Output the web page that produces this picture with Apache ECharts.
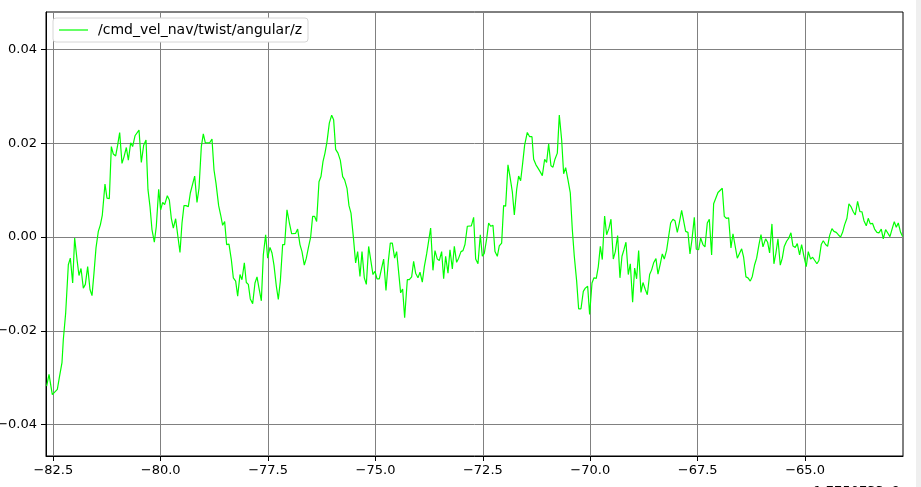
<!DOCTYPE html>
<html>
<head>
<meta charset="utf-8">
<title>/cmd_vel_nav/twist/angular/z</title>
<script src="https://cdn.jsdelivr.net/npm/echarts@6.0.0/dist/echarts.min.js"></script>
<style>
  html, body { margin: 0; padding: 0; background: #fff; }
  #plot { width: 921px; height: 487px; }
</style>
</head>
<body>
<div id="plot"></div>
<script>
// 时间（秒，相对于偏移量 1.7750733e9）
var timeSec = [
  -82.655, -82.600, -82.523, -82.484, -82.406, -82.360, -82.298, -82.267, -82.212, -82.150,
  -82.104, -82.049, -82.003, -81.948, -81.902, -81.855, -81.801, -81.754, -81.700, -81.646,
  -81.599, -81.553, -81.506, -81.452, -81.405, -81.359, -81.297, -81.250, -81.196, -81.149,
  -81.103, -81.048, -81.002, -80.955, -80.901, -80.854, -80.800, -80.753, -80.699, -80.653,
  -80.598, -80.552, -80.505, -80.451, -80.396, -80.342, -80.296, -80.249, -80.203, -80.148,
  -80.102, -80.047, -80.001, -79.954,
  -79.908, -79.846, -79.799, -79.753, -79.706, -79.652, -79.605, -79.551, -79.504, -79.458,
  -79.411, -79.357, -79.310, -79.264, -79.209, -79.155, -79.108, -79.054, -79.008, -78.961,
  -78.907, -78.860, -78.806, -78.759, -78.713, -78.651, -78.604, -78.558, -78.511, -78.465,
  -78.410, -78.356, -78.309, -78.255, -78.208, -78.154, -78.108, -78.053, -78.007, -77.960,
  -77.914, -77.859, -77.805, -77.758, -77.712, -77.657, -77.611, -77.557, -77.510, -77.456,
  -77.409, -77.363, -77.308, -77.262, -77.215, -77.161,
  -77.114, -77.060, -77.006, -76.951, -76.905, -76.858, -76.812, -76.758, -76.711, -76.657,
  -76.610, -76.556, -76.509, -76.463, -76.416, -76.370, -76.315, -76.269, -76.222, -76.176,
  -76.129, -76.075, -76.020, -75.974, -75.927, -75.873, -75.819, -75.764, -75.718, -75.663,
  -75.617, -75.570, -75.516, -75.462, -75.415, -75.361, -75.314, -75.260, -75.213, -75.159,
  -75.113, -75.058, -75.012, -74.965, -74.911, -74.856, -74.810, -74.756, -74.701, -74.655,
  -74.608, -74.554, -74.507, -74.461, -74.414, -74.368, -74.321,
  -74.259, -74.212, -74.158, -74.112, -74.065, -74.011, -73.964, -73.910, -73.863, -73.809,
  -73.763, -73.716, -73.662, -73.615, -73.561, -73.514, -73.460, -73.413, -73.367, -73.312,
  -73.266, -73.211, -73.165, -73.111, -73.064, -73.010, -72.963, -72.917, -72.862, -72.816,
  -72.769, -72.715, -72.668, -72.614, -72.560, -72.513, -72.467, -72.412, -72.366, -72.319,
  -72.265, -72.218, -72.164, -72.118, -72.063, -72.017, -71.970, -71.916, -71.869, -71.815,
  -71.768, -71.714, -71.668, -71.621, -71.574, -71.528,
  -71.466, -71.411, -71.357, -71.318, -71.264, -71.217, -71.171, -71.116, -71.062, -71.016,
  -70.969, -70.915, -70.868, -70.822, -70.767, -70.721, -70.666, -70.620, -70.573, -70.519,
  -70.465, -70.418, -70.372, -70.317, -70.271, -70.216, -70.162, -70.116, -70.061, -70.015,
  -69.960, -69.914, -69.860, -69.813, -69.766, -69.720, -69.666, -69.619, -69.565, -69.518,
  -69.464, -69.417, -69.363, -69.309, -69.262, -69.216, -69.169, -69.115, -69.068, -69.014,
  -68.967, -68.921, -68.874, -68.820, -68.773,
  -68.719, -68.672, -68.618, -68.571, -68.525, -68.471, -68.424, -68.370, -68.323, -68.277,
  -68.222, -68.176, -68.129, -68.075, -68.028, -67.974, -67.927, -67.873, -67.827, -67.780,
  -67.726, -67.679, -67.633, -67.578, -67.532, -67.477, -67.431, -67.377, -67.330, -67.276,
  -67.229, -67.175, -67.128, -67.082, -67.027, -66.981, -66.927, -66.880, -66.833, -66.779,
  -66.725, -66.678, -66.632, -66.577, -66.531, -66.476, -66.430, -66.376, -66.329, -66.275,
  -66.228, -66.174, -66.127, -66.073, -66.026, -65.980,
  -65.918, -65.872, -65.825, -65.771, -65.725, -65.678, -65.631, -65.577, -65.530, -65.484,
  -65.430, -65.383, -65.329, -65.282, -65.228, -65.181, -65.127, -65.080, -65.026, -64.972,
  -64.925, -64.871, -64.824, -64.778, -64.724, -64.677, -64.623, -64.576, -64.522, -64.475,
  -64.429, -64.374, -64.328, -64.274, -64.227, -64.173, -64.126, -64.080, -64.025, -63.979,
  -63.932, -63.878, -63.831, -63.777, -63.723, -63.676, -63.629, -63.575, -63.529, -63.482,
  -63.428, -63.381, -63.327, -63.280, -63.226, -63.179, -63.125, -63.079, -63.024, -62.978,
  -62.923, -62.877, -62.830, -62.776, -62.729
];

// 角速度 z（rad/s）
var angularZ = [
  -0.0318, -0.0293, -0.0336, -0.0340, -0.0325, -0.0300, -0.0268, -0.0219, -0.0162, -0.0059,
  -0.0045, -0.0098, -0.0002, -0.0048, -0.0082, -0.0067, -0.0109, -0.0101, -0.0063, -0.0112,
  -0.0125, -0.0077, -0.0023, 0.0012, 0.0026, 0.0047, 0.0113, 0.0083, 0.0082, 0.0193,
  0.0177, 0.0173, 0.0196, 0.0223, 0.0157, 0.0171, 0.0191, 0.0164, 0.0201, 0.0193,
  0.0216, 0.0217, 0.0228, 0.0159, 0.0196, 0.0207, 0.0101, 0.0065, 0.0016, -0.0011,
  0.0023, 0.0102, 0.0058, 0.0074,
  0.0069, 0.0088, 0.0079, 0.0040, 0.0019, 0.0039, 0.0005, -0.0033, 0.0030, 0.0067,
  0.0067, 0.0065, 0.0094, 0.0094, 0.0130, 0.0074, 0.0104, 0.0193, 0.0220, 0.0201,
  0.0201, 0.0201, 0.0209, 0.0143, 0.0115, 0.0067, 0.0047, 0.0025, 0.0033, -0.0016,
  -0.0015, -0.0048, -0.0087, -0.0094, -0.0126, -0.0080, -0.0091, -0.0055, -0.0097, -0.0101,
  -0.0132, -0.0142, -0.0098, -0.0085, -0.0109, -0.0136, -0.0038, 0.0005, -0.0045, -0.0022,
  -0.0034, -0.0060, -0.0105, -0.0133, -0.0094, -0.0016,
  -0.0016, 0.0058, 0.0031, 0.0007, 0.0008, 0.0008, 0.0017, -0.0016, -0.0031, -0.0060,
  -0.0045, -0.0020, 0.0000, 0.0044, 0.0044, 0.0033, 0.0118, 0.0129, 0.0161, 0.0179,
  0.0203, 0.0243, 0.0260, 0.0250, 0.0187, 0.0179, 0.0164, 0.0129, 0.0122, 0.0104,
  0.0067, 0.0051, 0.0001, -0.0055, -0.0031, -0.0084, -0.0031, -0.0087, -0.0101, -0.0020,
  -0.0019, -0.0080, -0.0073, -0.0089, -0.0089, -0.0066, -0.0047, -0.0114, -0.0052, -0.0013,
  -0.0013, -0.0045, -0.0031, -0.0033, -0.0119, -0.0111, -0.0172,
  -0.0091, -0.0091, -0.0085, -0.0052, -0.0077, -0.0087, -0.0075, -0.0096, -0.0063, -0.0036,
  -0.0037, 0.0019, -0.0071, -0.0029, -0.0047, -0.0050, -0.0031, -0.0089, -0.0041, -0.0077,
  -0.0027, -0.0068, -0.0020, -0.0054, -0.0045, -0.0031, -0.0029, -0.0016, 0.0023, 0.0021,
  0.0024, 0.0042, -0.0047, -0.0057, 0.0005, -0.0041, -0.0035, -0.0004, 0.0030, 0.0023,
  0.0025, -0.0031, -0.0041, -0.0019, -0.0013, 0.0067, 0.0066, 0.0154, 0.0129, 0.0097,
  0.0047, 0.0101, 0.0130, 0.0120, 0.0157, 0.0196,
  0.0223, 0.0214, 0.0214, 0.0166, 0.0154, 0.0147, 0.0140, 0.0131, 0.0166, 0.0159,
  0.0199, 0.0152, 0.0149, 0.0166, 0.0179, 0.0260, 0.0207, 0.0135, 0.0148, 0.0122,
  0.0094, 0.0016, -0.0041, -0.0094, -0.0153, -0.0153, -0.0116, -0.0109, -0.0105, -0.0165,
  -0.0098, -0.0087, -0.0088, -0.0063, -0.0020, -0.0048, 0.0045, 0.0005, 0.0019, 0.0038,
  -0.0047, -0.0031, 0.0003, -0.0087, -0.0041, -0.0027, -0.0011, -0.0080, -0.0057, -0.0139,
  -0.0066, -0.0089, -0.0029, -0.0118, -0.0097,
  -0.0112, -0.0123, -0.0080, -0.0070, -0.0055, -0.0046, -0.0079, -0.0057, -0.0036, -0.0047,
  -0.0028, 0.0001, 0.0030, 0.0038, 0.0035, 0.0010, 0.0030, 0.0057, 0.0058, 0.0012,
  0.0010, -0.0036, -0.0006, 0.0042, -0.0026, -0.0027, -0.0002, -0.0016, -0.0021, 0.0030,
  0.0038, -0.0038, 0.0071, 0.0071, 0.0095, 0.0095, 0.0104, 0.0044, 0.0040, 0.0041,
  -0.0023, 0.0007, 0.0008, -0.0045, -0.0045, -0.0025, -0.0043, -0.0085, -0.0087, -0.0094,
  -0.0084, -0.0059, -0.0045, -0.0016, 0.0005, -0.0021,
  -0.0004, -0.0011, -0.0034, 0.0028, -0.0057, -0.0034, -0.0004, -0.0060, -0.0045, -0.0020,
  -0.0009, -0.0003, 0.0009, -0.0019, -0.0022, -0.0014, -0.0038, -0.0016, -0.0041, -0.0063,
  -0.0031, -0.0047, -0.0043, -0.0047, -0.0057, -0.0050, -0.0016, -0.0008, -0.0016, -0.0020,
  0.0003, 0.0018, 0.0012, 0.0010, 0.0005, 0.0000, 0.0010, 0.0026, 0.0040, 0.0071,
  0.0065, 0.0054, 0.0047, 0.0076, 0.0054, 0.0054, 0.0035, 0.0024, 0.0040, 0.0028,
  0.0029, 0.0017, 0.0010, 0.0009, 0.0017, -0.0004, 0.0016, 0.0013, 0.0001, 0.0016,
  0.0033, 0.0021, 0.0030, 0.0010, 0.0001
];

// 刻度
var xTicks = [-82.5, -80.0, -77.5, -75.0, -72.5, -70.0, -67.5, -65.0];
var yTicks = [-0.04, -0.02, 0.00, 0.02, 0.04];

var seriesName = '/cmd_vel_nav/twist/angular/z';
var offsetText = '+1.7750733e9';

var lineData = [];
for (var i = 0; i < timeSec.length; i++) {
  lineData.push([timeSec[i], angularZ[i]]);
}

// matplotlib 风格的负号
function fmt(v, digits) {
  var s = Math.abs(v).toFixed(digits);
  return (v < 0 ? '\u2212' : '') + s;
}

var font = 'DejaVu Sans';
var chart = echarts.init(document.getElementById('plot'), null, { renderer: 'canvas' });

var option = {
  animation: false,
  backgroundColor: '#ffffff',
  textStyle: { fontFamily: font },
  grid: {
    left: 46, right: 18, top: 12, bottom: 31,
    show: true,
    borderColor: '#000',
    borderWidth: 1,
    backgroundColor: '#fff',
    containLabel: false,
    outerBoundsMode: 'none'
  },
  legend: {
    left: 53,
    top: 18,
    padding: [5, 6, 5, 6],
    icon: 'rect',
    itemWidth: 29,
    itemHeight: 1.2,
    backgroundColor: '#fff',
    borderColor: '#d6d6d6',
    borderWidth: 1,
    borderRadius: 3,
    textStyle: { fontFamily: font, fontSize: 14, color: '#000', padding: [0, 0, 0, 5] },
    data: [seriesName]
  },
  xAxis: {
    type: 'value',
    min: -82.67,
    max: -62.72,
    axisLine: { show: true, onZero: false, lineStyle: { color: '#000', width: 1 } },
    axisTick: { show: true, inside: false, length: 5, customValues: xTicks, lineStyle: { color: '#000' } },
    axisLabel: {
      customValues: xTicks,
      margin: 8,
      fontFamily: font,
      fontSize: 13,
      color: '#000',
      formatter: function(v) { return fmt(v, 1); }
    },
    splitLine: { show: true, lineStyle: { color: '#808080', width: 1 } }
  },
  yAxis: {
    type: 'value',
    min: -0.0467,
    max: 0.048,
    axisLine: { show: true, onZero: false, lineStyle: { color: '#000', width: 1 } },
    axisTick: { show: true, inside: false, length: 5, customValues: yTicks, lineStyle: { color: '#000' } },
    axisLabel: {
      customValues: yTicks,
      margin: 9,
      fontFamily: font,
      fontSize: 13,
      color: '#000',
      formatter: function(v) { return fmt(v, 2); }
    },
    splitLine: { show: true, lineStyle: { color: '#808080', width: 1 } }
  },
  series: [{
    name: seriesName,
    type: 'line',
    data: lineData,
    symbol: 'none',
    showSymbol: false,
    clip: true,
    lineStyle: { color: '#00ff00', width: 1.2 },
    itemStyle: { color: '#00ff00' }
  }],
  graphic: [
    {
      // 底部偏移量文字（原图中被裁掉一半）
      type: 'text',
      right: 21,
      top: 485,
      style: { text: offsetText, fontFamily: font, fontSize: 13, fill: '#000' }
    },
    {
      // 右侧浅灰色边条
      type: 'rect',
      left: 916,
      top: 0,
      shape: { width: 5, height: 487 },
      style: { fill: '#efefef' }
    }
  ]
};

chart.setOption(option);

window.onresize = function() {
  chart.resize();
};
</script>
</body>
</html>
